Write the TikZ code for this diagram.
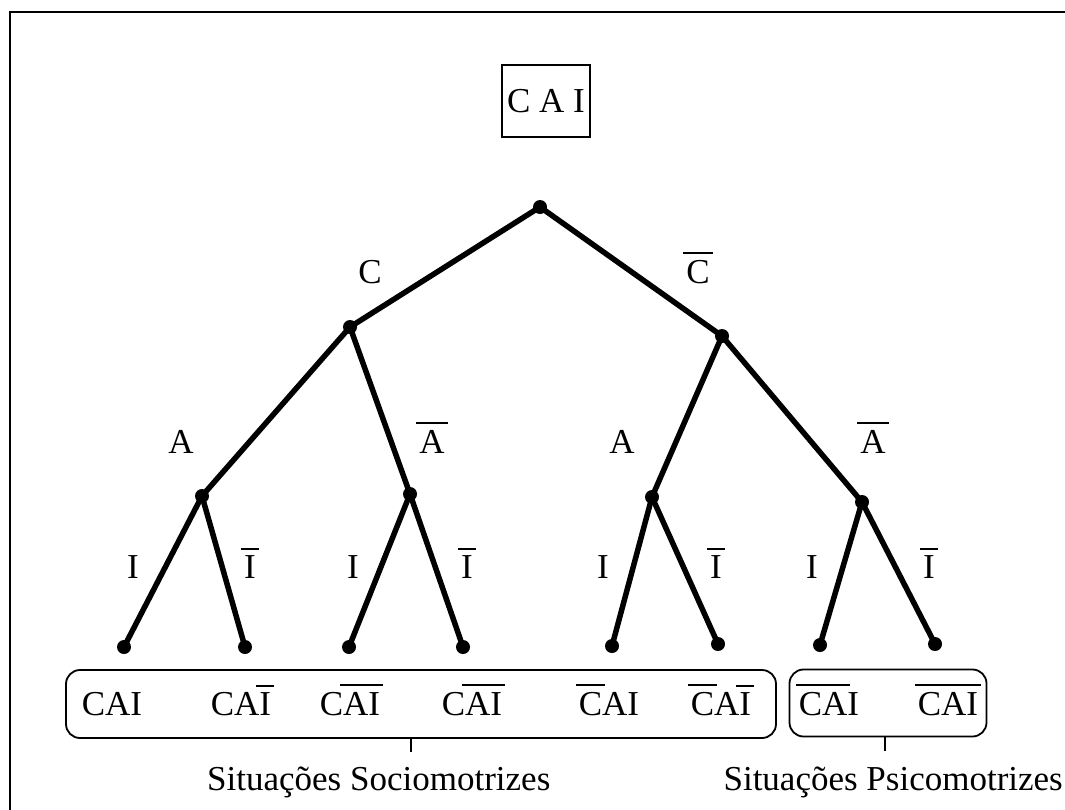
\documentclass[tikz,border=0pt]{standalone}
\usepackage{fontspec}
\setmainfont{Liberation Serif}
\newcommand{\nao}[1]{\leavevmode\kern-3pt\vbox{\hrule height 2pt\kern 5.5pt\hbox{\kern3pt#1\kern3pt}}\kern-3pt}
\tikzset{
  branch/.style={line width=5.5pt, line cap=round},
  dot/.style={circle, fill, inner sep=0pt, minimum size=14pt},
  lbl/.style={anchor=base, inner sep=0pt},
  grp/.style={draw, line width=1.8pt, rounded corners=14pt},
}
\begin{document}
\begin{tikzpicture}[x=1pt, y=-1pt, font={\fontsize{35}{40}\selectfont}]
    \useasboundingbox (0,0) rectangle (1065,809);
    \draw[line width=2.8pt] (10,12) rectangle (1085,830);
    % title
    \node[draw, line width=1.8pt, inner sep=5pt, minimum height=72pt] (title) at (546,101) {C A I};
    % tree
    \node[dot] (root) at (540,207) {};
    \node[dot] (c) at (350,327) {};
    \node[dot] (cn) at (722,336) {};
    \node[dot] (ca) at (202,496) {};
    \node[dot] (can) at (410,494) {};
    \node[dot] (cna) at (652,497) {};
    \node[dot] (cnan) at (862,502) {};
    \node[dot] (l1) at (124,647) {};
    \node[dot] (l2) at (245,647) {};
    \node[dot] (l3) at (349,647) {};
    \node[dot] (l4) at (463,647) {};
    \node[dot] (l5) at (612,646) {};
    \node[dot] (l6) at (718,644) {};
    \node[dot] (l7) at (820,645) {};
    \node[dot] (l8) at (935,644) {};
    \draw[branch] (root.center) -- (c.center);
    \draw[branch] (root.center) -- (cn.center);
    \draw[branch] (c.center) -- (ca.center);
    \draw[branch] (c.center) -- (can.center);
    \draw[branch] (cn.center) -- (cna.center);
    \draw[branch] (cn.center) -- (cnan.center);
    \draw[branch] (ca.center) -- (l1.center);
    \draw[branch] (ca.center) -- (l2.center);
    \draw[branch] (can.center) -- (l3.center);
    \draw[branch] (can.center) -- (l4.center);
    \draw[branch] (cna.center) -- (l5.center);
    \draw[branch] (cna.center) -- (l6.center);
    \draw[branch] (cnan.center) -- (l7.center);
    \draw[branch] (cnan.center) -- (l8.center);
    % branch labels
    \node[lbl] (tc) at (370,283) {C};
    \node[lbl] (tcn) at (698,283) {\nao{C}};
    \node[lbl] (ta1) at (181,453) {A};
    \node[lbl] (tan1) at (432,453) {\nao{A}};
    \node[lbl] (ta2) at (622,453) {A};
    \node[lbl] (tan2) at (873,453) {\nao{A}};
    \node[lbl] (ti1) at (133,578) {I};
    \node[lbl] (tin1) at (250,578) {\nao{I}};
    \node[lbl] (ti2) at (353,578) {I};
    \node[lbl] (tin2) at (467,578) {\nao{I}};
    \node[lbl] (ti3) at (603,578) {I};
    \node[lbl] (tin3) at (716,578) {\nao{I}};
    \node[lbl] (ti4) at (812,578) {I};
    \node[lbl] (tin4) at (929,578) {\nao{I}};
    % leaves
    \node[lbl] (r1) at (112,715) {CAI};
    \node[lbl] (r2) at (241,715) {CA\nao{I}};
    \node[lbl] (r3) at (350,715) {C\nao{AI}};
    \node[lbl] (r4) at (472,715) {C\nao{AI}};
    \node[lbl] (r5) at (609,715) {\nao{C}AI};
    \node[lbl] (r6) at (721,715) {\nao{C}A\nao{I}};
    \node[lbl] (r7) at (829,715) {\nao{CA}I};
    \node[lbl] (r8) at (948,715) {\nao{CAI}};
    % groups
    \node[grp, minimum width=710pt, minimum height=68pt] (gsoc) at (421,704) {};
    \node[grp, minimum width=197pt, minimum height=67pt] (gpsi) at (888,703) {};
    \node[anchor=base west, inner sep=0pt] (soc) at (207,790) {Situações Sociomotrizes};
    \node[anchor=base east, inner sep=0pt] (psi) at (1063,790) {Situações Psicomotrizes};
    \coordinate (tsoc) at (411,752);
    \coordinate (tpsi) at (885,751);
    \draw[line width=1.8pt] (gsoc.south -| tsoc) -- (tsoc);
    \draw[line width=1.8pt] (gpsi.south -| tpsi) -- (tpsi);
\end{tikzpicture}
\end{document}
